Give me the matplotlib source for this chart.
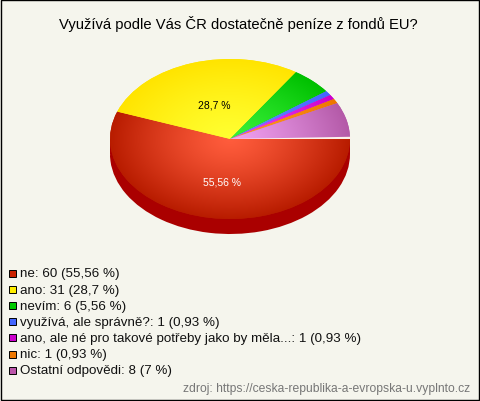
import numpy as np
import matplotlib
matplotlib.use("Agg")
import matplotlib.pyplot as plt
from matplotlib.colors import LinearSegmentedColormap
from matplotlib.patches import Rectangle, Wedge
from matplotlib.transforms import Affine2D

plt.rcParams['font.family'] = ['Liberation Sans', 'DejaVu Sans']

title = "Využívá podle Vás ČR dostatečně peníze z fondů EU?"
source = "zdroj: https://ceska-republika-a-evropska-u.vyplnto.cz"

values = [60, 31, 6, 1, 1, 1, 8]
legend_labels = [
    "ne: 60 (55,56 %)",
    "ano: 31 (28,7 %)",
    "nevím: 6 (5,56 %)",
    "využívá, ale správně?: 1 (0,93 %)",
    "ano, ale né pro takové potřeby jako by měla...: 1 (0,93 %)",
    "nic: 1 (0,93 %)",
    "Ostatní odpovědi: 8 (7 %)",
]
legend_colors = ["#cc2200", "#ffee00", "#00cc00", "#4466ff", "#cc00cc", "#ee7700", "#bb55aa"]
inner_colors = ["#ff5c3c", "#ffff30", "#38f038", "#6688ff", "#ee44ee", "#ff9922", "#f0a0f0"]
outer_colors = ["#b81c00", "#ffe400", "#00c000", "#4466ff", "#cc00cc", "#ee7700", "#b45aa8"]

BG = "#f5f5ed"
CX, CY, RX, RY, DEPTH = 230, 140, 120, 80, 15

fig = plt.figure(figsize=(4.8, 4.02), dpi=100, facecolor=BG)
ax = fig.add_axes([0, 0, 1, 1])

# rim of the pie, only the red slice shows at the front
ax.add_patch(Rectangle((CX - RX, CY), 2 * RX, DEPTH, color="#aa0000", lw=0, zorder=1))
ax.add_patch(Wedge((0, 0), 1, 0, 200, color="#aa0000", lw=0, zorder=1,
                   transform=Affine2D().scale(RX, RY).translate(CX, CY + DEPTH) + ax.transData))

wedges, _ = ax.pie(values, startangle=0, counterclock=True, radius=1, center=(0, 0))

ax.set_xlim(0, 480)
ax.set_ylim(402, 0)
ax.set_aspect("auto")
ax.axis("off")

# radial shading inside each slice
gx, gy = np.meshgrid(np.linspace(-1, 1, 300), np.linspace(-1, 1, 300))
shade = np.clip(np.hypot(gx, gy), 0, 1) ** 1.25
to_pie = Affine2D().scale(RX, RY).translate(CX, CY) + ax.transData
for w, c1, c2 in zip(wedges, inner_colors, outer_colors):
    w.set_transform(to_pie)
    w.set_facecolor(c2)
    w.set_linewidth(0)
    w.set_zorder(2)
    cmap = LinearSegmentedColormap.from_list("s", [c1, c2])
    im = ax.imshow(shade, cmap=cmap, vmin=0, vmax=1, aspect="auto", zorder=3,
                   extent=(CX - RX, CX + RX, CY + RY, CY - RY))
    im.set_clip_path(w)

ax.set_xlim(0, 480)
ax.set_ylim(402, 0)

# pale gap between the last slice and the first
ax.add_patch(Wedge((0, 0), 1.005, -1.6, 0, color="#fbf0ea", lw=0, zorder=4, transform=to_pie))

ax.text(238, 24.5, title, ha="center", va="center", fontsize=10.65, color="black")
ax.text(214, 105, "28,7 %", ha="center", va="center", fontsize=7.5, color="black", zorder=5)
ax.text(222, 183, "55,56 %", ha="center", va="center", fontsize=7.5, color="white", zorder=5)

for i, (lab, col) in enumerate(zip(legend_labels, legend_colors)):
    y = 274.5 + i * 16.1
    ax.add_patch(Rectangle((9, y - 3.5), 7, 7, facecolor=col, edgecolor="black", lw=0.7))
    ax.text(20, y, lab, ha="left", va="center", fontsize=9.6, color="#111111")

ax.text(470, 389, source, ha="right", va="center", fontsize=8.75, color="#777777")

# dark edge of the picture
ax.add_patch(Rectangle((0.5, 0.5), 478, 400.5, fill=False, edgecolor="black", lw=1, zorder=6))

fig.savefig("out.png", dpi=100, facecolor=BG)
